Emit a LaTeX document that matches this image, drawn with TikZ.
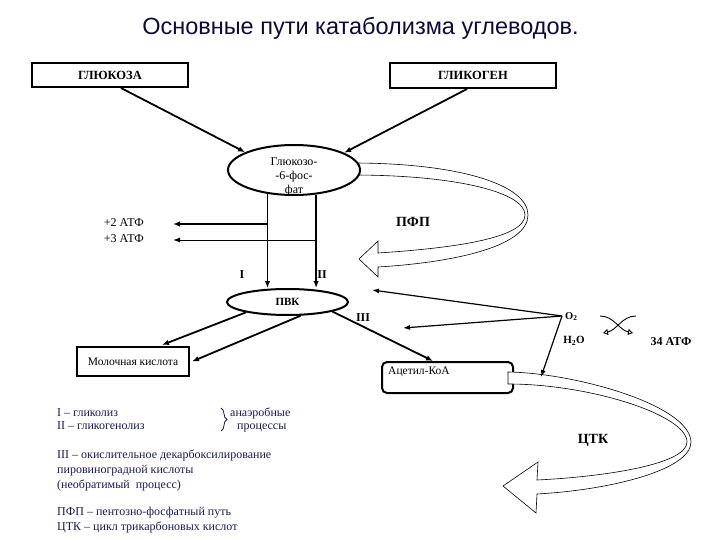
\documentclass[tikz,border=0pt]{standalone}
\usepackage{fontspec}
\setmainfont{Liberation Serif}
\newfontfamily\titlefont{Liberation Sans}
\usetikzlibrary{arrows.meta,shapes.geometric,decorations.pathreplacing}
\definecolor{navy}{RGB}{25,25,90}
\definecolor{titlec}{RGB}{10,10,60}
\begin{document}
\begin{tikzpicture}[x=1pt,y=-1pt,
  lbl/.style={inner sep=0pt, font=\fontsize{11.5}{14}\selectfont},
  blbl/.style={inner sep=0pt, font=\fontsize{11}{13}\selectfont\bfseries},
  bigb/.style={inner sep=0pt, font=\fontsize{14}{16}\selectfont\bfseries},
  note/.style={inner sep=0pt, anchor=mid west, text=navy, font=\fontsize{12}{13}\selectfont},
  sq/.style={draw, line width=2pt, inner sep=0pt},
  arr/.style={line width=1.8pt, -{Latex[length=7pt,width=5.5pt]}},
  thinarr/.style={line width=1.2pt, -{Latex[length=7pt,width=5pt]}},
  ribbon/.style={draw, fill=white, line width=0.6pt},
  opentip/.style={line width=0.9pt, -{Triangle[open,length=5pt,width=6pt]}}
]
\useasboundingbox (0,0) rectangle (720,540);

% title
\node[inner sep=0pt, anchor=base, text=titlec, font=\titlefont\fontsize{23.5}{26}\selectfont] (title) at (360.5,35) {Основные пути катаболизма углеводов.};

% top boxes
\node[sq, minimum width=156pt, minimum height=24pt, font=\fontsize{12.5}{13}\selectfont\bfseries] (gluc) at (110,75) {ГЛЮКОЗА};
\node[sq, minimum width=166pt, minimum height=25pt, font=\fontsize{12.5}{13}\selectfont\bfseries] (glyc) at (473,75.5) {ГЛИКОГЕН};

% PPP ribbon
\draw[ribbon] (352,163) .. controls (460,163) and (528,185) .. (528,215)
  .. controls (528,245) and (460,262) .. (378,267) -- (378,277) -- (359,259) -- (378,241) -- (378,253)
  .. controls (455,248) and (525,238) .. (525,215)
  .. controls (525,192) and (455,175) .. (352,175) -- cycle;
\node[bigb] (ppp) at (413,222) {ПФП};

% glucose-6-phosphate
\node[ellipse, draw, line width=2pt, fill=white, minimum width=132pt, minimum height=50pt, inner sep=0pt] (g6p) at (294,170) {};
\node[lbl, align=center, font=\fontsize{12}{14}\selectfont] (g6ptext) at (294,177) {Глюкозо-\\-6-фос-\\фат};

\draw[arr] ([xshift=11pt]gluc.south) -- (g6p.160.9);
\draw[arr] ([xshift=-6pt]glyc.south) -- (g6p.19.8);

% PVK
\node[ellipse, draw, line width=2pt, fill=white, minimum width=121pt, minimum height=26pt, inner sep=0pt, font=\fontsize{11}{13}\selectfont\bfseries] (pvk) at (287.5,302) {ПВК};

\draw[arr] (g6p.-138.5) -- (g6p.-138.5 |- pvk.north);
\draw[arr] (g6p.-48.8) -- (g6p.-48.8 |- pvk.north);

% ATP side arrows
\coordinate (a2) at (173,224);
\coordinate (a3) at (173,240);
\draw[arr] (g6p.-138.5 |- a2) -- (a2);
\draw[line width=1pt, -{Latex[length=7pt,width=5pt]}] (g6p.-48.8 |- a3) -- (a3);
\node[lbl, anchor=mid east, font=\fontsize{12}{14}\selectfont] (atp2) at (144,224) {+2 АТФ};
\node[lbl, anchor=mid east, font=\fontsize{12}{14}\selectfont] (atp3) at (144,240) {+3 АТФ};

\node[blbl, font=\fontsize{12}{13}\selectfont\bfseries] (lI) at (242,275) {I};
\node[blbl, font=\fontsize{12}{13}\selectfont\bfseries] (lII) at (322,275) {II};
\node[blbl, font=\fontsize{12}{13}\selectfont\bfseries] (lIII) at (363,318) {III};

% lactate
\node[sq, minimum width=112pt, minimum height=29pt, font=\fontsize{11.5}{13}\selectfont] (lact) at (133,361.5) {Молочная кислота};
\coordinate (l1) at (162,345);
\draw[arr] (pvk.194.5) -- (l1);
\draw[arr] (pvk.-46) -- ([xshift=2pt]lact.east);

% acetyl-CoA
\node[draw, line width=2pt, rounded corners=5pt, minimum width=131pt, minimum height=31pt, inner sep=0pt] (acoa) at (447.5,377.5) {};
\node[lbl, anchor=mid west] (acoatext) at (388,372) {Ацетил-КоА};
\draw[arr] (pvk.-12.4) -- ([xshift=-14.5pt]acoa.north);

% TCA ribbon
\draw[ribbon] (508,372) .. controls (575,373) and (690,405) .. (691,442)
  .. controls (691,470) and (610,490) .. (537,494) -- (536,513) -- (503,486) -- (538,462) -- (537,480)
  .. controls (600,477) and (687,465) .. (687,442)
  .. controls (687,415) and (590,384) .. (508,384) -- cycle;
\node[bigb] (tca) at (593,440) {ЦТК};

% O2 arrows
\coordinate (o2) at (562,316);
\coordinate (t1) at (372,290);
\coordinate (t2) at (403,328);
\coordinate (t3) at (541,377);
\draw[thinarr] (o2) -- (t1);
\draw[thinarr] (o2) -- (t2);
\draw[thinarr] (o2) -- (t3);
\node[blbl, anchor=mid west, font=\fontsize{10.5}{12}\selectfont\bfseries] (o2lbl) at (565,317) {O\textsubscript{2}};
\node[blbl, font=\fontsize{11}{12}\selectfont\bfseries] (h2o) at (574,341) {H\textsubscript{2}O};

% crossing arrows
\coordinate (c1) at (600,316);
\coordinate (c2) at (633,333);
\coordinate (c3) at (636,316);
\coordinate (c4) at (603,333);
\draw[opentip] (c1) .. controls (614,316) and (619,330) .. (c2);
\draw[opentip] (c3) .. controls (622,316) and (617,330) .. (c4);
\node[blbl, font=\fontsize{12}{13}\selectfont\bfseries] (atp34) at (671,342) {34 АТФ};

% legend
\node[note] (n1) at (57,414) {I – гликолиз};
\node[note] (n2) at (57,427) {II – гликогенолиз};
\draw[navy, line width=0.8pt, decorate, decoration={brace, amplitude=6pt}] (221,408) -- (221,431);
\node[note] (n3) at (230,414) {анаэробные};
\node[note] (n4) at (237,427) {процессы};
\node[note] (n5) at (57,456) {III – окислительное декарбоксилирование};
\node[note] (n6) at (57,471) {пировиноградной кислоты};
\node[note] (n7) at (57,486) {(необратимый\ \ процесс)};
\node[note] (n8) at (57,513) {ПФП – пентозно-фосфатный путь};
\node[note] (n9) at (57,528) {ЦТК – цикл трикарбоновых кислот};
\end{tikzpicture}
\end{document}
